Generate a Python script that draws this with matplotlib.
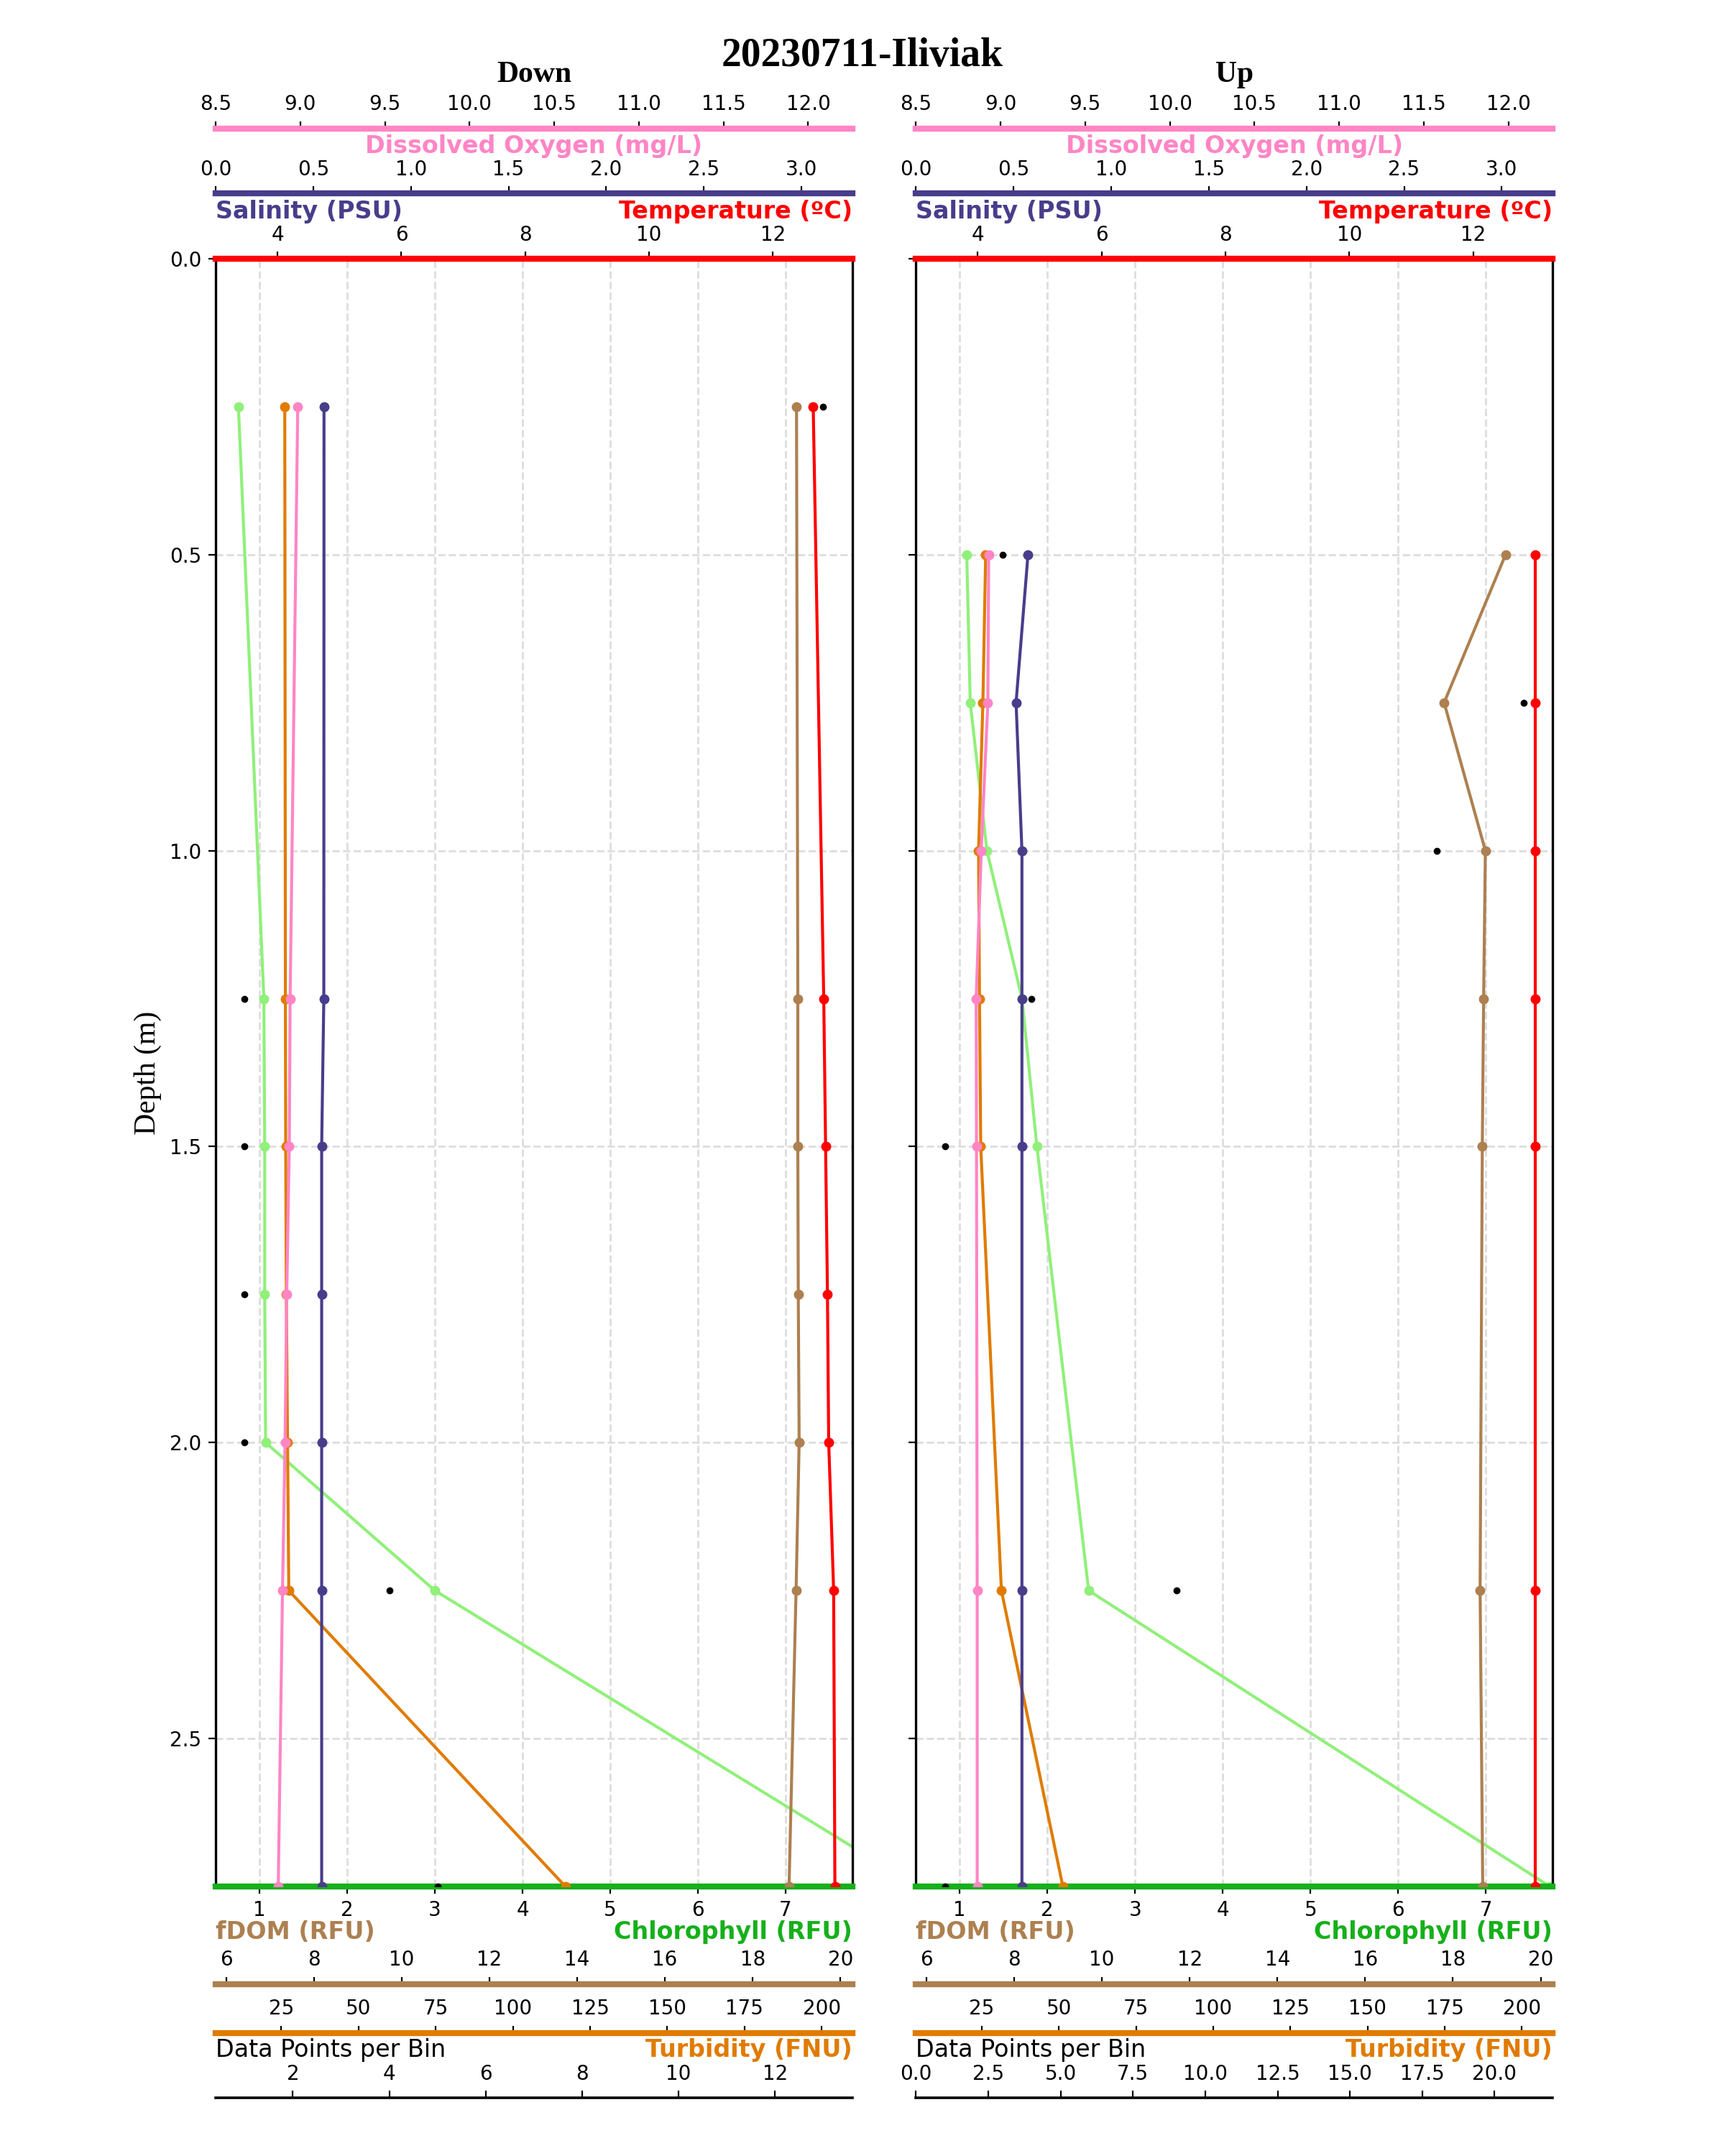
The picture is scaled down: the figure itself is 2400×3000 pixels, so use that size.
import numpy as np
import matplotlib.pyplot as plt

plt.rcParams['font.family'] = ['DejaVu Sans']

title = "20230711-Iliviak"

# Down cast
depth_down = [0.25, 1.25, 1.5, 1.75, 2.0, 2.25, 2.75]
temp_down = [12.65, 12.82, 12.85, 12.88, 12.90, 12.98, 13.0]
sal_down = [0.555, 0.554, 0.543, 0.543, 0.543, 0.543, 0.543]
do_down = [8.985, 8.94, 8.935, 8.92, 8.91, 8.895, 8.87]
chl_down = [0.76, 1.05, 1.06, 1.06, 1.07, 3.0, 8.5]
fdom_down = [19.0, 19.03, 19.03, 19.04, 19.06, 18.99, 18.83]
turb_down = [26.1, 26.3, 26.4, 26.6, 27.0, 27.4, 117.0]
npts_down = [13, 1, 1, 1, 1, 4, 5]

# Up cast
depth_up = [0.5, 0.75, 1.0, 1.25, 1.5, 2.25, 2.75]
temp_up = [13.0, 13.0, 13.0, 13.0, 13.0, 13.0, 13.0]
sal_up = [0.574, 0.513, 0.543, 0.543, 0.543, 0.543, 0.543]
do_up = [8.93, 8.925, 8.886, 8.856, 8.858, 8.862, 8.862]
chl_up = [1.08, 1.12, 1.31, 1.71, 1.88, 2.47, 7.73]
fdom_up = [19.2, 17.8, 18.74, 18.70, 18.67, 18.62, 18.68]
turb_up = [26.3, 25.4, 24.0, 24.3, 24.7, 31.4, 51.3]
npts_up = [3, 21, 18, 4, 1, 9, 1]

# axis ranges (shared by both casts)
temp_lim = (3.0, 13.28)
sal_lim = (0.0, 3.26)
do_lim = (8.5, 12.26)
chl_lim = (0.5, 7.76)
fdom_lim = (5.76, 20.27)
turb_lim = (3.7, 209.9)
depth_max = 2.75

c_temp = '#ff0000'
c_sal = '#483d8b'
c_do = '#ff85c5'
c_chl = '#90f07a'
c_chl_dark = '#15b01a'
c_fdom = '#ad8050'
c_turb = '#e07b00'

lw = 1.5
ms = 4
serif = 'Liberation Serif'


def twin(host, pos, color, width=3):
    t = host.twiny()
    for s in ['left', 'right', 'bottom']:
        t.spines[s].set_visible(False)
    t.spines['top'].set_position(('axes', pos))
    t.spines['top'].set_color(color)
    t.spines['top'].set_linewidth(width)
    t.xaxis.set_ticks_position('top')
    return t


def label(ax, x, y, s, color, ha, bold=True):
    ax.text(x, y, s, transform=ax.transAxes, ha=ha, va='center', color=color,
            fontsize=12, fontweight='bold' if bold else 'normal')


def panel(host, name, depth, temp, sal, do, chl, fdom, turb, npts):
    # chlorophyll on the host axes
    host.plot(chl, depth, '-o', color=c_chl, lw=lw, ms=ms)
    host.set_xlim(*chl_lim)
    host.grid(True, ls='--', color='#dddddd', lw=1)
    host.set_axisbelow(True)
    host.spines['top'].set_visible(False)
    host.spines['bottom'].set_color(c_chl_dark)
    host.spines['bottom'].set_linewidth(3)
    host.spines['left'].set_linewidth(1.2)
    host.spines['right'].set_linewidth(1.2)

    ax_f = twin(host, -0.06, c_fdom)
    ax_f.plot(fdom, depth, '-o', color=c_fdom, lw=lw, ms=ms)
    ax_f.set_xlim(*fdom_lim)

    ax_u = twin(host, -0.09, c_turb)
    ax_u.plot(turb, depth, '-o', color=c_turb, lw=lw, ms=ms)
    ax_u.set_xlim(*turb_lim)

    ax_t = twin(host, 1.0, c_temp)
    ax_t.plot(temp, depth, '-o', color=c_temp, lw=lw, ms=ms)
    ax_t.set_xlim(*temp_lim)

    ax_s = twin(host, 1.04, c_sal)
    ax_s.plot(sal, depth, '-o', color=c_sal, lw=lw, ms=ms)
    ax_s.set_xlim(*sal_lim)

    ax_o = twin(host, 1.08, c_do)
    ax_o.plot(do, depth, '-o', color=c_do, lw=lw, ms=ms)
    ax_o.set_xlim(*do_lim)

    ax_n = twin(host, -0.13, 'black', 1.3)
    ax_n.plot(npts, depth, 'o', color='black', ms=2.5)

    host.set_ylim(depth_max, 0)

    label(host, 0.5, 1.069, 'Dissolved Oxygen (mg/L)', c_do, 'center')
    label(host, 0.0, 1.029, 'Salinity (PSU)', c_sal, 'left')
    label(host, 1.0, 1.029, 'Temperature (ºC)', c_temp, 'right')
    label(host, 0.0, -0.028, 'fDOM (RFU)', c_fdom, 'left')
    label(host, 1.0, -0.028, 'Chlorophyll (RFU)', c_chl_dark, 'right')
    label(host, 0.0, -0.1005, 'Data Points per Bin', 'black', 'left', bold=False)
    label(host, 1.0, -0.1005, 'Turbidity (FNU)', c_turb, 'right')

    host.text(0.5, 1.113, name, transform=host.transAxes, ha='center', va='center',
              fontsize=15, fontweight='bold', family=serif)


fig, axs = plt.subplots(1, 2, figsize=(12, 15), dpi=200, sharey=True)
fig.subplots_adjust(left=0.125, right=0.9, bottom=0.125, top=0.88, wspace=0.1)

panel(axs[0], 'Down', depth_down, temp_down, sal_down, do_down, chl_down,
      fdom_down, turb_down, npts_down)
panel(axs[1], 'Up', depth_up, temp_up, sal_up, do_up, chl_up,
      fdom_up, turb_up, npts_up)

axs[0].set_ylabel('Depth (m)', fontsize=15, family=serif)
fig.text(0.5, 0.974, title, ha='center', va='center', fontsize=20,
         fontweight='bold', family=serif)

fig.savefig('out.png', dpi=200)
